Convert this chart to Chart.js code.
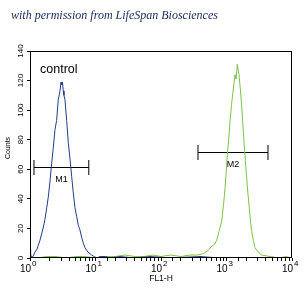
<!DOCTYPE html>
<html>
<head>
<meta charset="UTF-8">
<title>FL1-H histogram</title>
<script src="https://cdn.jsdelivr.net/npm/chart.js"></script>
<style>
  html, body { margin: 0; padding: 0; background: #fff; }
</style>
</head>
<body>
<canvas id="hist" width="305" height="296"></canvas>
<script>
// control peak (blue), FL1-H channel value -> counts
const controlX = [1.00, 1.02, 1.05, 1.11, 1.19, 1.28, 1.42, 1.52, 1.60, 1.69, 1.80, 1.90, 2.02, 2.14, 2.27, 2.41, 2.55, 2.70, 2.87, 2.98, 3.05, 3.13, 3.22, 3.30, 3.42, 3.63, 3.84, 4.08, 4.33, 4.58, 4.86, 5.16, 5.47, 5.79, 6.14, 6.52, 6.91, 7.68, 8.75, 10.4, 11.7, 13.9, 16.6, 23.7, 40, 68, 137, 394, 795, 10000];
const controlCounts = [6, 3, 0, 1, 4, 6, 12, 17, 21, 26, 34, 41, 52, 64, 75, 87, 93, 107, 113, 119, 117, 119, 113, 110, 107, 93, 78, 67, 55, 44, 34, 28, 22, 19, 14, 10, 7, 4, 2, 0, 1, 1, 0, 1, 0, 1, 0, 1, 0, 0];

// stained sample peak (green)
const sampleX = [1, 1.3, 1.8, 2.5, 3.5, 5, 7, 10, 14, 20, 28, 40, 55, 75, 100, 140, 200, 277, 360, 443, 520, 594, 650, 708, 770, 845, 900, 949, 990, 1029, 1080, 1130, 1190, 1244, 1300, 1349, 1400, 1462, 1510, 1552, 1620, 1707, 1780, 1849, 1940, 2033, 2130, 2228, 2320, 2425, 2570, 2723, 3050, 3444, 4616, 6561, 8000, 10000];
const sampleCounts = [1, 0, 1, 1, 0, 1, 1, 0, 1, 1, 2, 1, 1, 2, 1, 2, 1, 2, 2, 3, 5, 8, 9, 12, 18, 25, 36, 47, 58, 70, 80, 92, 103, 111, 118, 124, 121, 131, 127, 124, 115, 103, 90, 79, 66, 54, 43, 34, 25, 18, 12, 7, 4, 2, 1, 0, 1, 0];

// marker gates
const gateNames = ["M1", "M2"];
const gateFrom = [1.15, 367];
const gateTo = [7.9, 4300];
const gateLevel = [61.2, 71.35];

// axes
const yTicks = [0, 20, 40, 60, 80, 100, 120, 140];
const xDecades = [1, 10, 100, 1000, 10000];
const xDecadeExp = ["0", "1", "2", "3", "4"];

const pts = (xs, ys) => xs.map((v, i) => ({x: v, y: ys[i]}));

const gateSets = gateNames.map((name, i) => ({
    label: name,
    data: [{x: gateFrom[i], y: gateLevel[i]}, {x: gateTo[i], y: gateLevel[i]}],
    borderColor: "#000",
    borderWidth: 1,
    pointStyle: "line",
    rotation: 90,
    pointRadius: 7.5,
    pointBorderColor: "#000",
    pointBorderWidth: 1,
    tension: 0
}));

const extras = {
    id: "extras",
    afterDraw(chart) {
        const ctx = chart.ctx;
        const a = chart.chartArea;
        const x = chart.scales.x, y = chart.scales.y;
        ctx.save();
        ctx.strokeStyle = "#000";
        ctx.lineWidth = 1;
        ctx.strokeRect(a.left + 0.5, a.top + 0.5, a.right - a.left - 1, a.bottom - a.top - 1);

        ctx.fillStyle = "#000";
        // y tick labels, rotated
        ctx.font = "8px 'Liberation Sans'";
        ctx.textAlign = "center";
        ctx.textBaseline = "middle";
        yTicks.forEach(v => {
            ctx.save();
            ctx.translate(20.5, y.getPixelForValue(v));
            ctx.rotate(-Math.PI / 2);
            ctx.fillText(String(v), 0, 0);
            ctx.restore();
        });
        ctx.save();
        ctx.font = "7px 'Liberation Sans'";
        ctx.translate(8.5, 148);
        ctx.rotate(-Math.PI / 2);
        ctx.fillText("Counts", 0, 0);
        ctx.restore();

        // x decade labels with superscript
        ctx.textBaseline = "alphabetic";
        xDecades.forEach((v, i) => {
            const px = x.getPixelForValue(v);
            ctx.font = "10px 'Liberation Sans'";
            ctx.textAlign = "right";
            ctx.fillText("10", px + 1, 272);
            ctx.font = "8px 'Liberation Sans'";
            ctx.textAlign = "left";
            ctx.fillText(xDecadeExp[i], px + 2, 266);
        });
        ctx.font = "8.5px 'Liberation Sans'";
        ctx.textAlign = "center";
        ctx.fillText("FL1-H", (a.left + a.right) / 2, 281);

        // gate names under the bars
        ctx.font = "9px 'Liberation Sans'";
        gateNames.forEach((name, i) => {
            const mid = Math.sqrt(gateFrom[i] * gateTo[i]);
            ctx.fillText(name, x.getPixelForValue(mid), y.getPixelForValue(gateLevel[i]) + 14);
        });

        ctx.font = "12.5px 'Liberation Sans'";
        ctx.textAlign = "left";
        ctx.fillText("control", 40, 73);

        ctx.font = "italic 12px 'Liberation Serif'";
        ctx.fillStyle = "#1f2d62";
        ctx.fillText("with permission from LifeSpan Biosciences", 11, 19);
        ctx.restore();
    }
};

new Chart(document.getElementById("hist"), {
    type: "line",
    data: {
        datasets: [
            {label: "control", data: pts(controlX, controlCounts), borderColor: "#213d88", borderWidth: 1, pointRadius: 0, tension: 0},
            {label: "sample", data: pts(sampleX, sampleCounts), borderColor: "#7cc246", borderWidth: 1, pointRadius: 0, tension: 0},
            ...gateSets
        ]
    },
    options: {
        responsive: false,
        animation: false,
        layout: {padding: {top: 51, right: 13, left: 0, bottom: 0}},
        plugins: {legend: {display: false}, tooltip: {enabled: false}},
        scales: {
            x: {
                type: "logarithmic",
                min: 1,
                max: 10000,
                border: {display: false},
                grid: {drawOnChartArea: false, drawTicks: true, tickLength: 3, color: "#000"},
                ticks: {autoSkip: false, callback: () => "", maxRotation: 0},
                afterFit: s => { s.height = 38; }
            },
            y: {
                min: 0,
                max: 140,
                border: {display: false},
                grid: {drawOnChartArea: false, drawTicks: true, tickLength: 3, color: "#000"},
                ticks: {stepSize: 20, callback: () => ""},
                afterFit: s => { s.width = 30; }
            }
        }
    },
    plugins: [extras]
});
</script>
</body>
</html>
